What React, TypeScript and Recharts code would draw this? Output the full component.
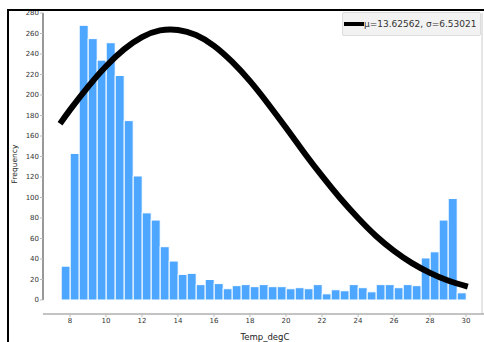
import React from "react";
import { ComposedChart, Bar, Line, XAxis, YAxis, ReferenceLine, Label } from "recharts";

// histogram bins (centre of each 0.5 degC bin) and counts
const binCenters = [
  7.75, 8.25, 8.75, 9.25, 9.75, 10.25, 10.75, 11.25, 11.75, 12.25, 12.75, 13.25, 13.75, 14.25, 14.75,
  15.25, 15.75, 16.25, 16.75, 17.25, 17.75, 18.25, 18.75, 19.25, 19.75, 20.25, 20.75, 21.25, 21.75, 22.25,
  22.75, 23.25, 23.75, 24.25, 24.75, 25.25, 25.75, 26.25, 26.75, 27.25, 27.75, 28.25, 28.75, 29.25, 29.75,
];
const counts = [
  33, 143, 268, 255, 234, 251, 219, 175, 121, 85, 78, 52, 38, 25, 26,
  15, 20, 16, 11, 14, 15, 13, 15, 13, 13, 11, 12, 11, 15, 6,
  10, 9, 15, 12, 8, 15, 15, 12, 15, 14, 41, 47, 78, 99, 7,
];

// fitted normal curve
const curveX = [7.45, 8, 9, 10, 11, 12, 13, 14, 15, 16, 17, 18, 19, 20, 21, 22, 23, 24, 25, 26, 27, 28, 29, 30.1];
const curveY = [172, 185.5, 208, 228, 244.5, 256.5, 263, 263.5, 258.5, 248, 232.5, 213.5, 191.5, 168, 144, 121, 99.5, 80, 62.5, 48, 36, 26.5, 19, 13];

const xTicks = [8, 10, 12, 14, 16, 18, 20, 22, 24, 26, 28, 30];
const yTicks = [0, 20, 40, 60, 80, 100, 120, 140, 160, 180, 200, 220, 240, 260, 280];

const legendText = "\u03bc=13.62562, \u03c3=6.53021";

const barData = binCenters.map((x, i) => ({ x, count: counts[i] }));
const curveData = curveX.map((x, i) => ({ x, y: curveY[i] }));

const font = "'DejaVu Sans', Verdana, sans-serif";
const BIN_PX = 9; // 0.5 degC at 18px per degC

// bar drawn at the scaled bin centre, one bin wide
const BinBar = (props: any) => {
  const { x, y, width, height } = props;
  if (height == null || height <= 0) return null;
  const cx = x + width / 2;
  return <rect x={cx - BIN_PX / 2} y={y} width={BIN_PX} height={height} fill="#4da6ff" stroke="#ffffff" strokeWidth={1} />;
};

export default function App() {
  return (
    <div style={{ position: "fixed", left: 0, top: 0, width: 484, height: 342, background: "#fff", fontFamily: font, overflow: "hidden" }}>
      <ComposedChart width={484} height={342} data={barData} margin={{ top: 13, right: 0, bottom: 0, left: 0 }}>
        <XAxis
          type="number"
          dataKey="x"
          domain={[6.5, 31]}
          allowDataOverflow
          ticks={xTicks}
          interval={0}
          height={28}
          axisLine={{ stroke: "#888" }}
          tickLine={{ stroke: "#bbb" }}
          tickSize={3}
          tickMargin={1}
          tick={{ fontSize: 7, fill: "#333", fontFamily: font }}
        >
          <Label
            content={() => (
              <text x={265} y={337} textAnchor="middle" dominantBaseline="central" fontSize={8.5} fill="#222" fontFamily={font}>
                Temp_degC
              </text>
            )}
          />
        </XAxis>
        <YAxis
          type="number"
          domain={[-13.66, 280]}
          allowDataOverflow
          ticks={yTicks}
          interval={0}
          width={43}
          axisLine={false}
          tickLine={{ stroke: "#bbb" }}
          tickSize={3}
          tickMargin={1}
          tick={{ fontSize: 7, fill: "#333", fontFamily: font }}
        >
          <Label
            content={() => (
              <text x={14.5} y={164} transform="rotate(-90 14.5 164)" textAnchor="middle" dominantBaseline="central" fontSize={7.5} fill="#222" fontFamily={font}>
                Frequency
              </text>
            )}
          />
        </YAxis>
        {/* y spine only spans 0..280, right frame edge */}
        <ReferenceLine segment={[{ x: 6.5, y: 0 }, { x: 6.5, y: 280 }]} stroke="#333" strokeWidth={1} />
        <ReferenceLine x={30.89} stroke="#ccc" strokeWidth={1} />
        <Bar dataKey="count" shape={BinBar} isAnimationActive={false} />
        <Line data={curveData} dataKey="y" type="natural" stroke="#000" strokeWidth={6} dot={false} activeDot={false} isAnimationActive={false} />
      </ComposedChart>

      {/* legend */}
      <div
        style={{
          position: "absolute",
          left: 342,
          top: 12,
          width: 139,
          height: 24,
          boxSizing: "border-box",
          background: "#f2f2f2",
          border: "1px solid #ddd",
          borderRadius: 2,
          display: "flex",
          alignItems: "center",
          fontSize: 9,
          color: "#333",
        }}
      >
        <span style={{ display: "inline-block", width: 20, height: 4, background: "#000", marginLeft: 1 }} />
        <span style={{ whiteSpace: "nowrap" }}>{legendText}</span>
      </div>

      {/* notebook output frame */}
      <div
        style={{
          position: "absolute",
          left: 7,
          top: 9,
          right: 0,
          bottom: 0,
          borderLeft: "2px solid #000",
          borderTop: "2px solid #000",
          pointerEvents: "none",
        }}
      />
    </div>
  );
}
